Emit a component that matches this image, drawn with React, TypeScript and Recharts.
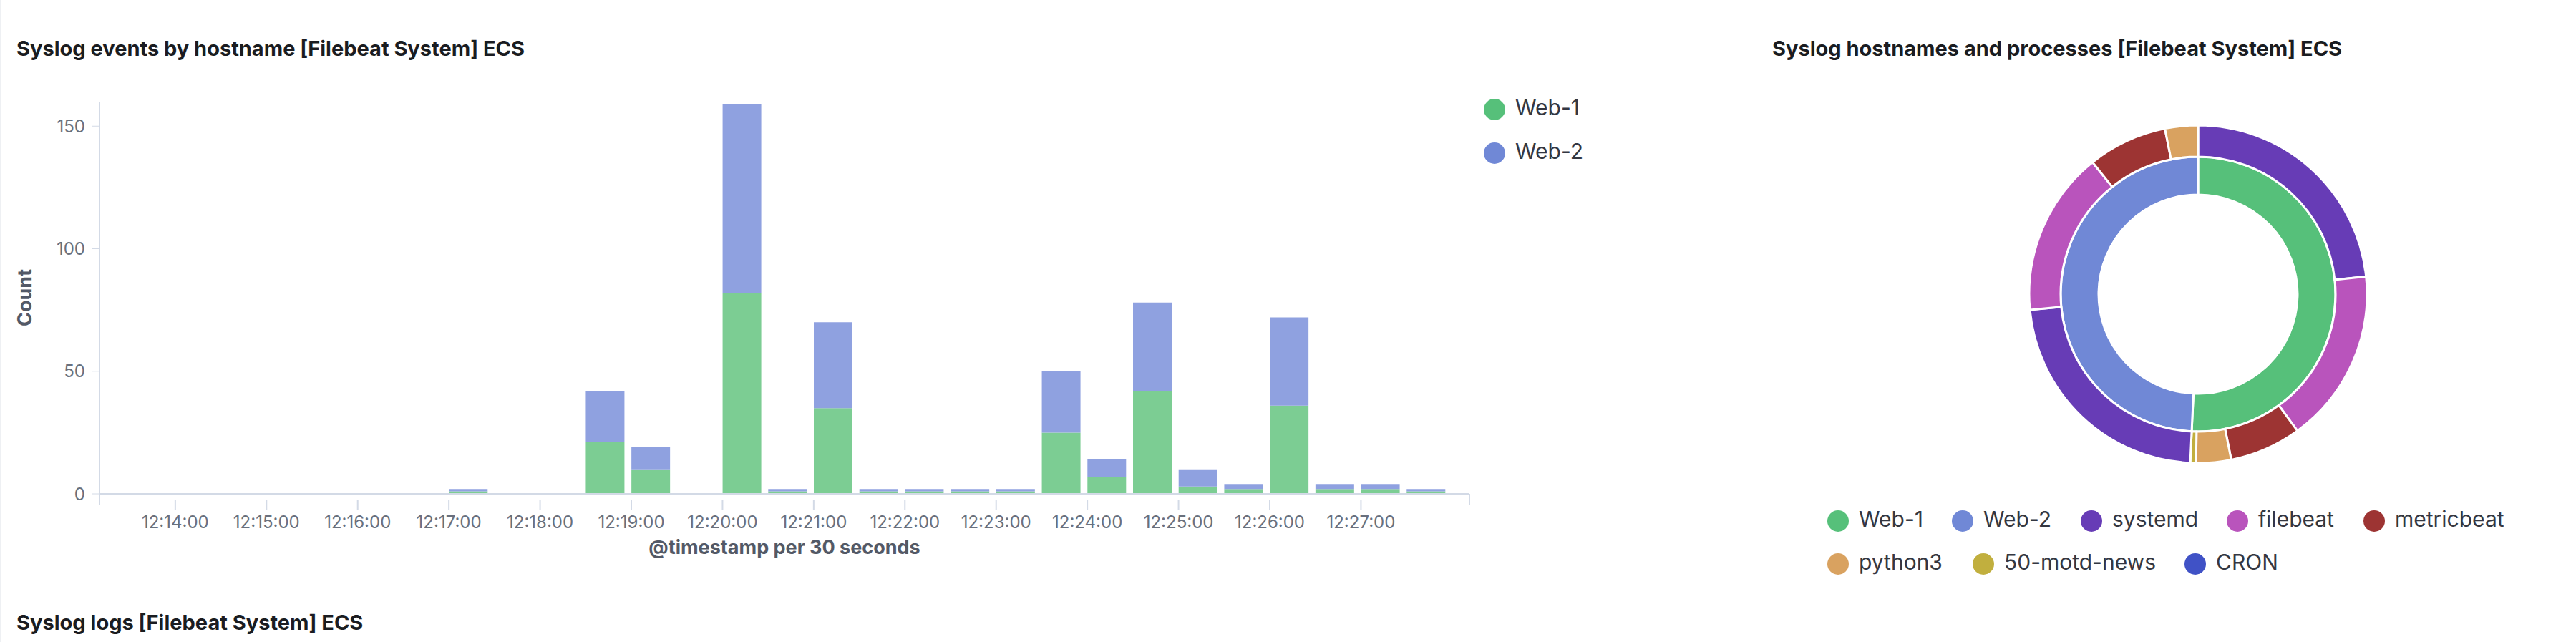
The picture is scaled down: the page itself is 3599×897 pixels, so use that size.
import React from 'react';
import { BarChart, Bar, XAxis, YAxis, PieChart, Pie, Cell } from 'recharts';

const slots = ['12:14:00','12:14:30','12:15:00','12:15:30','12:16:00','12:16:30','12:17:00','12:17:30','12:18:00','12:18:30','12:19:00','12:19:30','12:20:00','12:20:30','12:21:00','12:21:30','12:22:00','12:22:30','12:23:00','12:23:30','12:24:00','12:24:30','12:25:00','12:25:30','12:26:00','12:26:30','12:27:00','12:27:30'];
const web1 = [0,0,0,0,0,0,1,0,0,21,10,0,82,1,35,1,1,1,1,25,7,42,3,2,36,2,2,1];
const web2 = [0,0,0,0,0,0,1,0,0,21,9,0,77,1,35,1,1,1,1,25,7,36,7,2,36,2,2,1];
const yTicks = [0, 50, 100, 150];

const hosts = ['Web-1', 'Web-2'];
const hostCounts = [274, 266];
const procNames = ['systemd','filebeat','metricbeat','python3','50-motd-news','systemd','filebeat','metricbeat','python3'];
const procCounts = [126, 90, 37, 18, 3, 123, 85, 41, 17];
const legendNames = ['Web-1','Web-2','systemd','filebeat','metricbeat','python3','50-motd-news','CRON'];

const colors: Record<string, string> = {
  'Web-1': '#56C07A', 'Web-2': '#7088D6', systemd: '#673CB6', filebeat: '#B954BC',
  metricbeat: '#9D3433', python3: '#D9A260', '50-motd-news': '#C1AF3E', CRON: '#4052C6',
};

const barData = slots.map((s, i) => ({ t: s, web1: web1[i], web2: web2[i] }));
const hostData = hosts.map((h, i) => ({ name: h, value: hostCounts[i] }));
const procData = procNames.map((p, i) => ({ name: p, value: procCounts[i] }));

const FONT = 'Inter, "Noto Sans", sans-serif';

const XTick = (props: any) => {
  const { x, y, payload } = props;
  const v: string = payload.value;
  if (!v.endsWith(':00') || v.endsWith(':30:00')) {
    // keep minute labels only
  }
  if (v.slice(6) !== '00') return null;
  const px = x - 27;
  return (
    <g>
      <line x1={px} x2={px} y1={y} y2={y + 14} stroke="#D3DAE6" strokeWidth={2} />
      <text x={px} y={y + 40} textAnchor="middle" fill="#69707D" fontSize={24} fontFamily={FONT}>{v}</text>
    </g>
  );
};

const Dot = ({ c }: { c: string }) => (
  <span style={{ display: 'inline-block', width: 30, height: 30, borderRadius: 15, background: c, marginRight: 14, verticalAlign: 'middle' }} />
);

export default function App() {
  const legendRow1 = legendNames.slice(0, 5);
  const legendRow2 = legendNames.slice(5);
  const pos1 = [2553, 2727, 2907, 3111, 3302];
  const pos2 = [2553, 2756, 3052];
  return (
    <div style={{ position: 'fixed', left: 0, top: 0, width: 3599, height: 897, background: '#fff', fontFamily: FONT, overflow: 'hidden' }}>
      <div style={{ position: 'absolute', left: 0, top: 0, width: 2, height: 897, background: '#EEF0F3' }} />
      <div style={{ position: 'absolute', left: 23, top: 50, fontSize: 29, fontWeight: 700, color: '#1a1c21' }}>Syslog events by hostname [Filebeat System] ECS</div>
      <div style={{ position: 'absolute', left: 2476, top: 50, fontSize: 29, fontWeight: 700, color: '#1a1c21' }}>Syslog hostnames and processes [Filebeat System] ECS</div>
      <div style={{ position: 'absolute', left: 23, top: 852, fontSize: 29, fontWeight: 700, color: '#1a1c21' }}>Syslog logs [Filebeat System] ECS</div>

      <div style={{ position: 'absolute', left: 0, top: 0 }}>
        <BarChart width={2100} height={800} data={barData} margin={{ top: 142, left: 79, right: 47, bottom: 0 }} barCategoryGap={5}>
          <XAxis dataKey="t" height={110} interval={0} tick={<XTick />} tickLine={false} axisLine={{ stroke: '#D3DAE6', strokeWidth: 2 }} padding={{ left: 101, right: 29 }} />
          <YAxis width={60} domain={[0, 160]} ticks={yTicks} tickSize={10} tickMargin={10} axisLine={{ stroke: '#D3DAE6', strokeWidth: 2 }} tickLine={{ stroke: '#D3DAE6' }} tick={{ fill: '#69707D', fontSize: 24, fontFamily: FONT }} />
          <Bar dataKey="web1" stackId="a" fill="#7CCD93" isAnimationActive={false} />
          <Bar dataKey="web2" stackId="a" fill="#8FA1E0" isAnimationActive={false} />
        </BarChart>
      </div>
      <svg style={{ position: 'absolute', left: 0, top: 0 }} width={2100} height={800}>
        <line x1={2053} x2={2053} y1={690} y2={706} stroke="#D3DAE6" strokeWidth={2} />
        <line x1={139} x2={139} y1={690} y2={706} stroke="#D3DAE6" strokeWidth={2} />
        <text x={37} y={416} transform="rotate(-90 37 416)" textAnchor="middle" dominantBaseline="middle" fontSize={27} fontWeight={700} fill="#535966" fontFamily={FONT}>Count</text>
        <text x={1096} y={774} textAnchor="middle" fontSize={27} fontWeight={700} fill="#535966" fontFamily={FONT}>@timestamp per 30 seconds</text>
      </svg>
      <div style={{ position: 'absolute', left: 2073, top: 133, fontSize: 30, color: '#343741', lineHeight: '34px' }}>
        <div style={{ marginBottom: 26 }}><Dot c={colors['Web-1']} />Web-1</div>
        <div><Dot c={colors['Web-2']} />Web-2</div>
      </div>

      <div style={{ position: 'absolute', left: 2700, top: 0 }}>
        <PieChart width={899} height={897}>
          <Pie data={hostData} dataKey="value" cx={366} cy={406} innerRadius={139} outerRadius={192} startAngle={90} endAngle={-270} stroke="#fff" strokeWidth={3} isAnimationActive={false}>
            {hostData.map((d, i) => <Cell key={i} fill={colors[d.name]} />)}
          </Pie>
          <Pie data={procData} dataKey="value" cx={366} cy={406} innerRadius={192} outerRadius={236} startAngle={90} endAngle={-270} stroke="#fff" strokeWidth={3} isAnimationActive={false}>
            {procData.map((d, i) => <Cell key={i} fill={colors[d.name]} />)}
          </Pie>
        </PieChart>
      </div>
      {legendRow1.map((n, i) => (
        <div key={n} style={{ position: 'absolute', left: pos1[i], top: 707, fontSize: 30, color: '#343741', lineHeight: '36px', whiteSpace: 'nowrap' }}><Dot c={colors[n]} />{n}</div>
      ))}
      {legendRow2.map((n, i) => (
        <div key={n} style={{ position: 'absolute', left: pos2[i], top: 767, fontSize: 30, color: '#343741', lineHeight: '36px', whiteSpace: 'nowrap' }}><Dot c={colors[n]} />{n}</div>
      ))}
    </div>
  );
}
